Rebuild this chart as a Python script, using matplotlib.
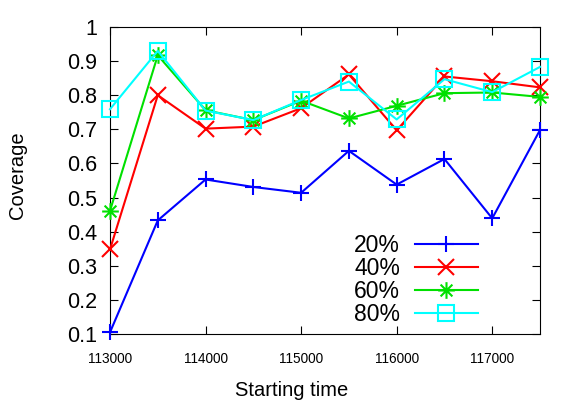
import matplotlib.pyplot as plt
from matplotlib.path import Path
import numpy as np

plt.rcParams['font.family'] = ['Liberation Sans', 'DejaVu Sans']

# starting times and coverage per sampling rate
start_times = [113000, 113500, 114000, 114500, 115000,
               115500, 116000, 116500, 117000, 117500]
labels = ["20%", "40%", "60%", "80%"]
cov_20 = [0.105, 0.433, 0.553, 0.531, 0.514, 0.637, 0.538, 0.613, 0.439, 0.698]
cov_40 = [0.348, 0.800, 0.702, 0.708, 0.762, 0.861, 0.697, 0.855, 0.841, 0.823]
cov_60 = [0.461, 0.917, 0.756, 0.727, 0.784, 0.732, 0.769, 0.806, 0.808, 0.795]
cov_80 = [0.759, 0.930, 0.755, 0.727, 0.786, 0.840, 0.729, 0.847, 0.809, 0.883]

# gnuplot-style asterisk: "+" and "x" drawn as strokes
ang = np.deg2rad([0, 45, 90, 135])
verts, codes = [], []
for a in ang:
    verts += [(np.cos(a), np.sin(a)), (-np.cos(a), -np.sin(a))]
    codes += [Path.MOVETO, Path.LINETO]
star = Path(verts, codes)

series = [cov_20, cov_40, cov_60, cov_80]
colors = ["#0000ff", "#ff0000", "#00e000", "#00ffff"]
markers = ["+", "x", star, "s"]  # gnuplot pt 1..4
sizes = [12, 11, 12, 11]

W, H = 581, 407
fig = plt.figure(figsize=(W / 100, H / 100), dpi=100)
ax = fig.add_axes([110 / W, 1 - 334 / H, 430 / W, 307 / H])

for vals, lab, c, m, s in zip(series, labels, colors, markers, sizes):
    mfc = "none" if isinstance(m, str) and m == "s" else c
    ax.plot(start_times, vals, color=c, lw=1.5, marker=m, ms=s,
            mew=1.5, mfc=mfc, mec=c, label=lab, clip_on=False, zorder=3)

ax.set_xlim(113000, 117500)
ax.set_ylim(0.1, 1.0)
ax.set_xticks(np.arange(113000, 117001, 1000))
ax.set_xticklabels([str(t) for t in range(113000, 117001, 1000)], fontsize=9.8)
ax.set_yticks(np.arange(0.1, 1.01, 0.1))
ax.set_yticklabels(["0.1", "0.2", "0.3", "0.4", "0.5", "0.6", "0.7", "0.8", "0.9", "1"],
                   fontsize=15.5)
ax.tick_params(direction="in", length=6, width=0.8, top=True, right=True)
ax.tick_params(axis="y", pad=9)
ax.tick_params(axis="x", pad=13)

# gnuplot centres the x label on the canvas, not the plot
fig.text(292 / W, 1 - 391 / H, "Starting time", fontsize=14.5,
         ha="center", va="center")
fig.text(18 / W, 1 - 175 / H, "Coverage", fontsize=14.5, rotation=90,
         ha="center", va="center")

ax.legend(loc="center right", bbox_to_anchor=(478 / W, 1 - 280 / H),
          bbox_transform=fig.transFigure, frameon=False,
          markerfirst=False, fontsize=16.5, handlelength=2.75,
          handletextpad=0.65, labelspacing=0.0, borderpad=0,
          borderaxespad=0)

fig.savefig("out.png", dpi=100)
